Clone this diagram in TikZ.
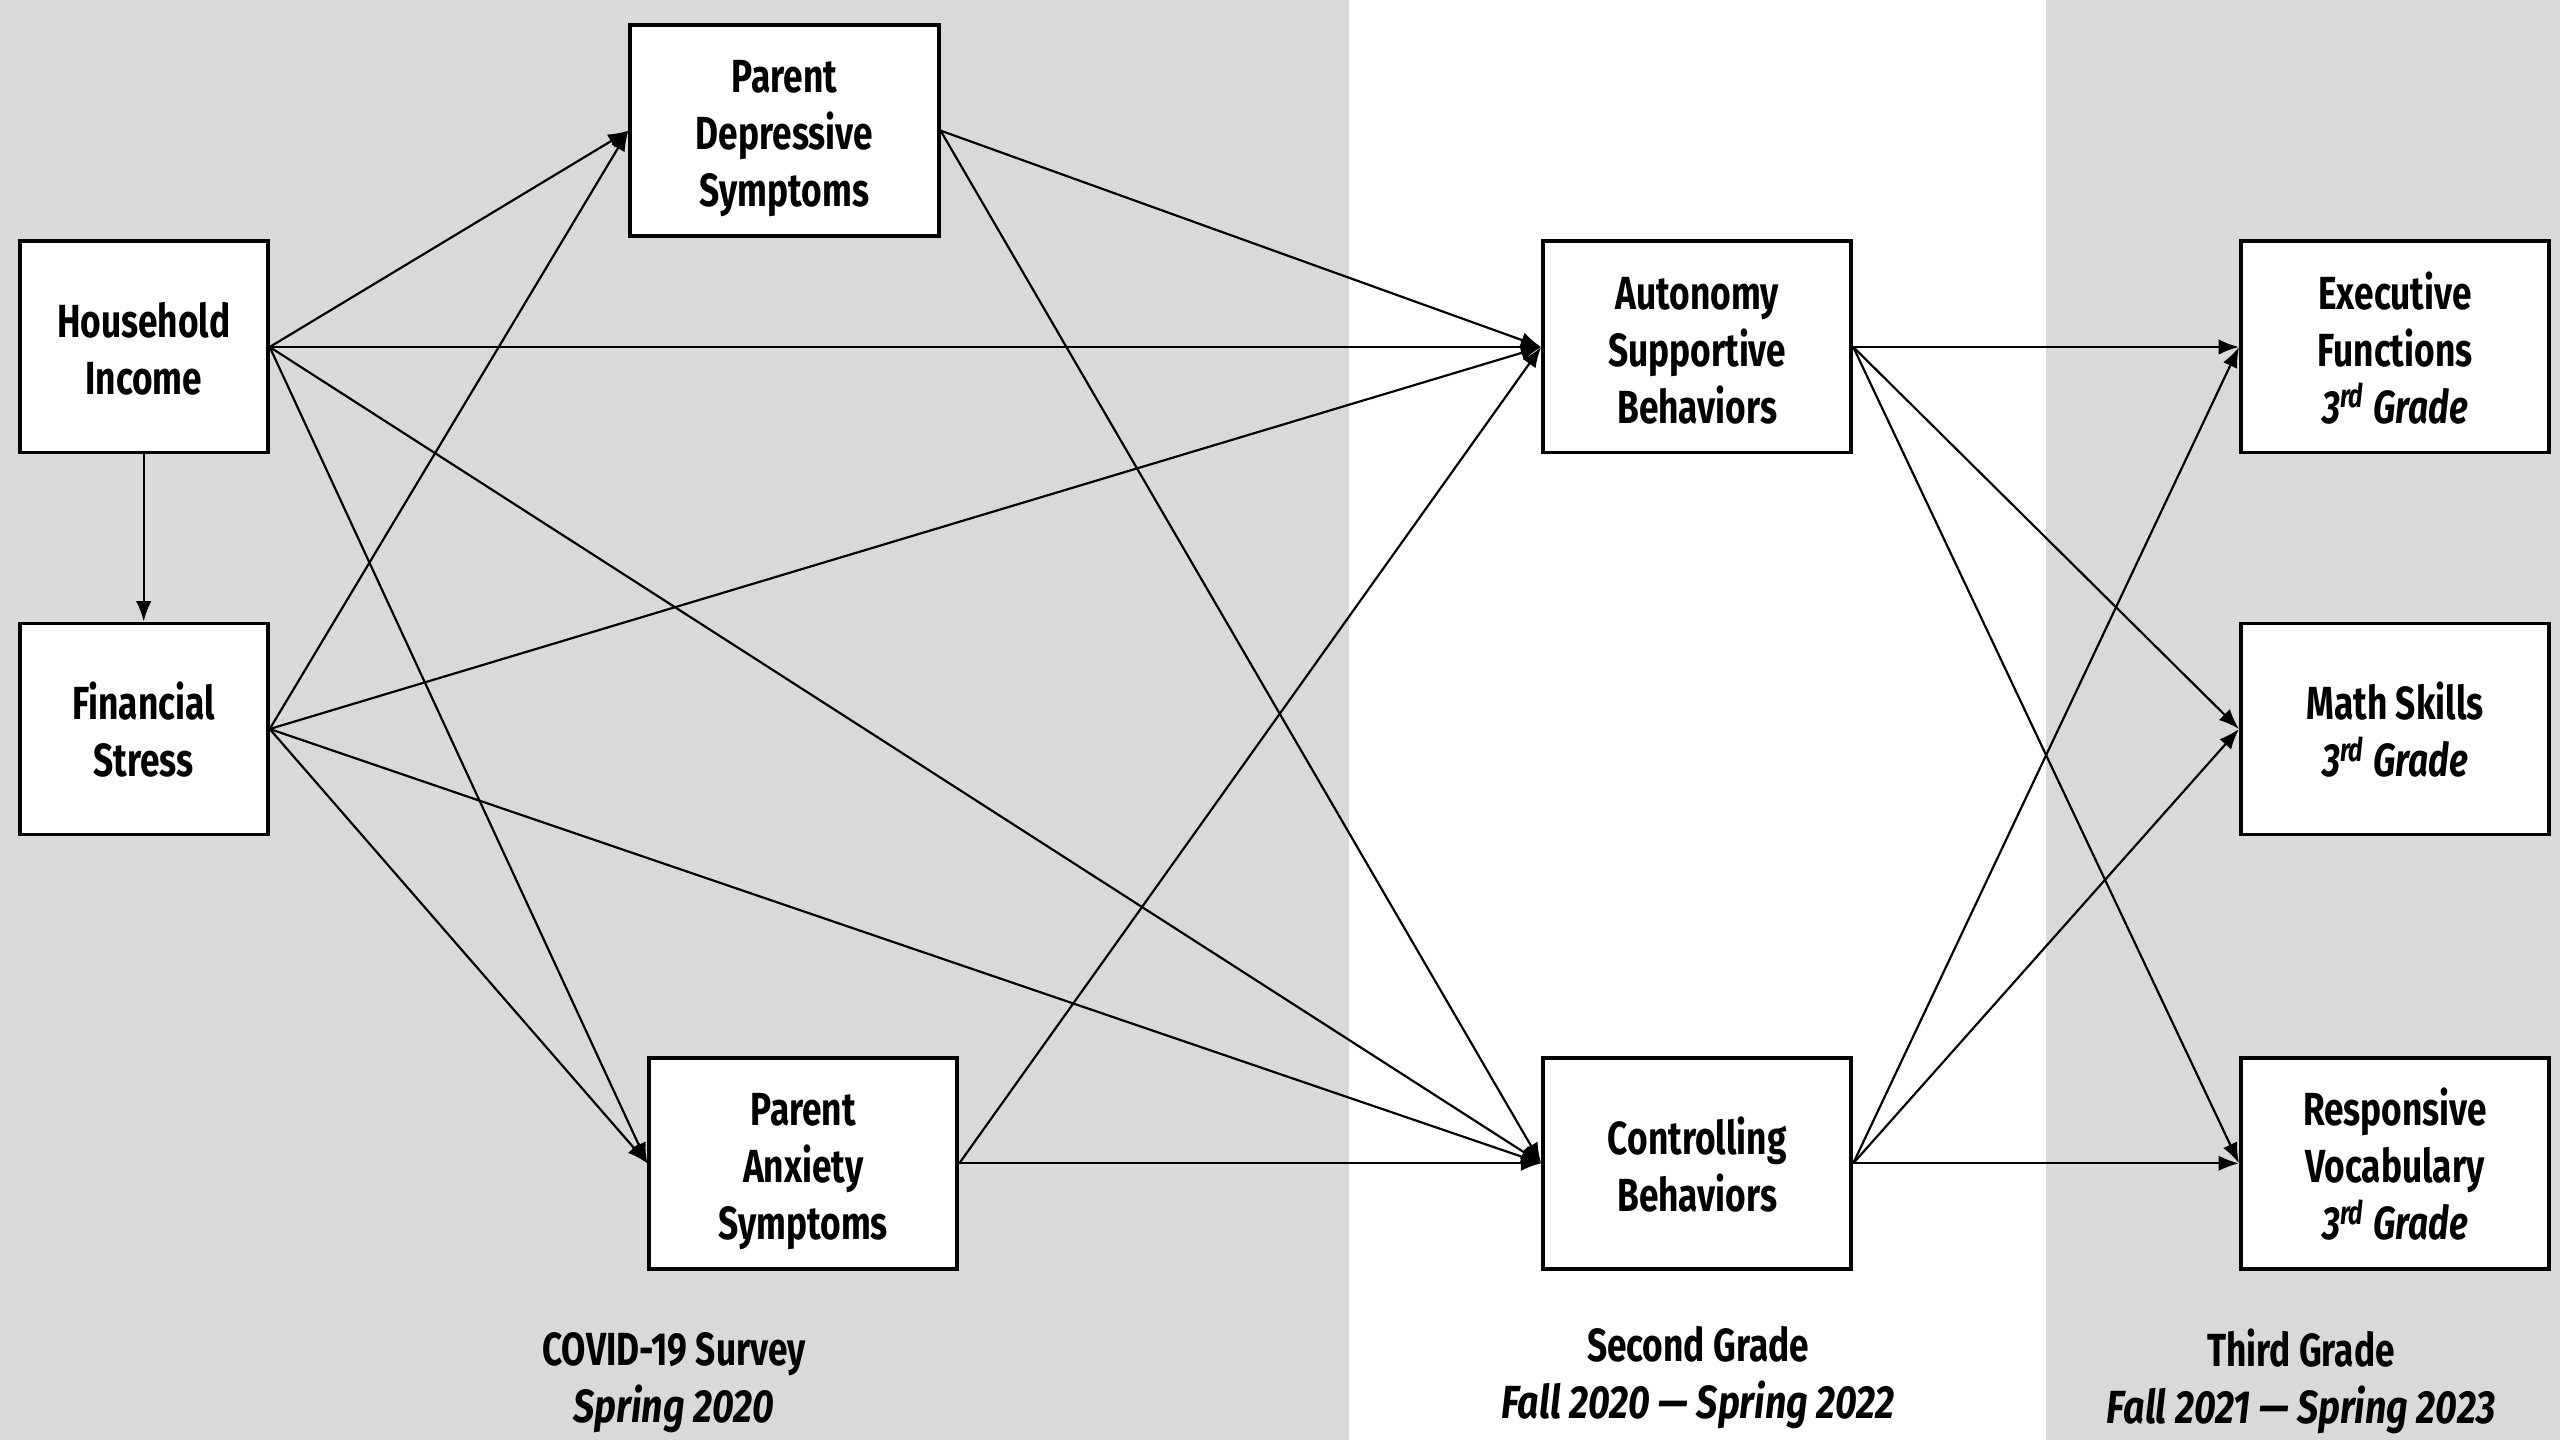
\documentclass[tikz,border=0pt]{standalone}
\usepackage{fontspec}
\setmainfont{Fira Sans}[FakeStretch=0.76]
\newfontfamily\periodit{Fira Sans}[FakeStretch=0.81]
\usetikzlibrary{arrows.meta}
\definecolor{band}{HTML}{D9D9D9}
% invisible rules that fix the top and bottom of a box's text block
\newcommand\tstrut{\rule{0pt}{14.5pt}}
\newcommand\bstrut{\rule[-3.5pt]{0pt}{0pt}}

\begin{document}
\begin{tikzpicture}[x=0.01cm, y=-0.01cm,
  every node/.style={font=\fontsize{13.2}{16.2}\selectfont\bfseries, align=center},
  box/.style={draw=black, line width=1.1pt, fill=white, inner sep=0pt,
              minimum width=3.08cm, minimum height=2.11cm},
  narrowbox/.style={box, minimum width=2.48cm},
  link/.style={-{Latex[length=5.8pt,width=4.4pt]}, line width=0.62pt},
  period/.style={inner sep=0pt}]

  % canvas and time-period bands
  \useasboundingbox (0,0) rectangle (2560,1440);
  \fill[white] (0,0) rectangle (2560,1440);
  \fill[band] (0,0) rectangle (1349,1440);
  \fill[band] (2046,0) rectangle (2560,1440);

  % COVID-19 survey measures
  \node[narrowbox] (hi) at (143.7,347) {\tstrut Household\\Income\bstrut};
  \node[narrowbox] (fs) at (143.7,729) {\tstrut Financial\\Stress\bstrut};
  \node[box] (pd) at (784.5,130.6) {\tstrut Parent\\Depressive\\Symptoms\bstrut};
  \node[box] (pa) at (803.3,1163.3) {\tstrut Parent\\Anxiety\\Symptoms\bstrut};

  % second grade parenting
  \node[box] (as) at (1697.2,347) {\tstrut Autonomy\\Supportive\\Behaviors\bstrut};
  \node[box] (cb) at (1697.2,1163.3) {\tstrut Controlling\\Behaviors\bstrut};

  % third grade outcomes
  \node[box] (ef) at (2395,347) {\tstrut Executive\\Functions\\{\itshape 3\textsuperscript{rd} Grade}\bstrut};
  \node[box] (ms) at (2395,729) {\tstrut Math Skills\\{\itshape 3\textsuperscript{rd} Grade}\bstrut};
  \node[box] (rv) at (2395,1163.3) {\tstrut Responsive\\Vocabulary\\{\itshape 3\textsuperscript{rd} Grade}\bstrut};

  % paths
  \draw[link] (hi.south) -- (fs.north);
  \foreach \t in {pd,as,cb,pa} {
    \draw[link] (hi.east) -- (\t.west);
    \draw[link] (fs.east) -- (\t.west);
  }
  \foreach \s in {pd,pa} {
    \draw[link] (\s.east) -- (as.west);
    \draw[link] (\s.east) -- (cb.west);
  }
  \foreach \s in {as,cb} {
    \draw[link] (\s.east) -- (ef.west);
    \draw[link] (\s.east) -- (ms.west);
    \draw[link] (\s.east) -- (rv.west);
  }

  % period labels
  \node[period] (p1) at (674,1383) {COVID-19 Survey\\{\periodit\bfseries\itshape Spring 2020}};
  \node[period] (p2) at (1698,1378) {Second Grade\\{\periodit\bfseries\itshape Fall 2020 — Spring 2022}};
  \node[period] (p3) at (2301,1381) {Third Grade\\{\periodit\bfseries\itshape Fall 2021 — Spring 2023}};
\end{tikzpicture}
\end{document}
